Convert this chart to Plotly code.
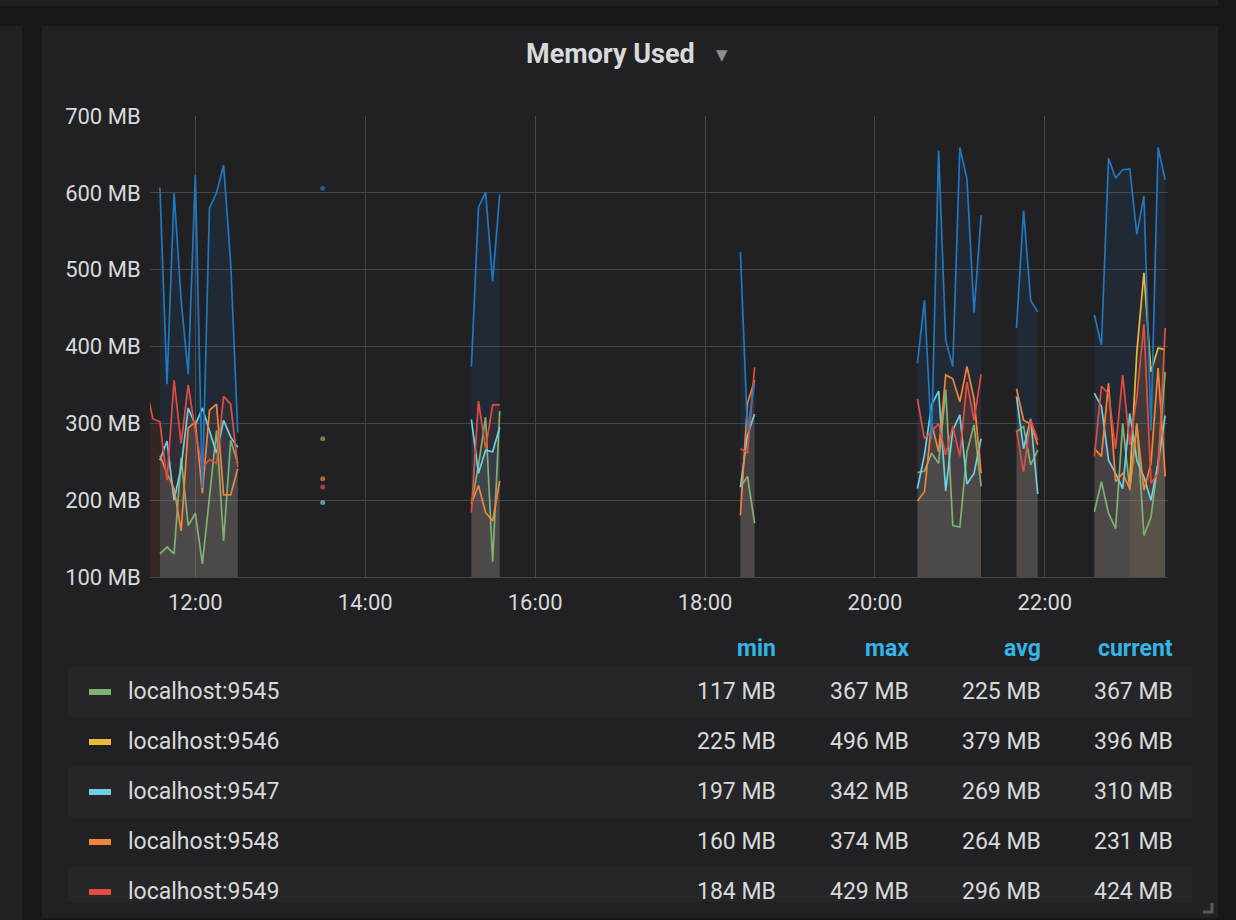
import plotly.graph_objects as go
from datetime import datetime, timedelta

DAY = "2018-06-01"

# ---- data (5‑minute samples, grouped in contiguous segments) ----
seg_starts = ["11:25", "13:30", "15:15", "18:25", "20:30", "21:40", "22:35"]

s9545 = [
    [None, None, 130, 139, 130, 255, 167, 183, 117, 200, 291, 147, 278, 248],
    [280],
    [195, 245, 308, 120, 316],
    [217, 231, 170],
    [236, 238, 261, 248, 344, 167, 165, 263, 298, 218],
    [289, 296, 246, 265],
    [185, 224, 183, 163, 300, 213, 300, 154, 178, 250, 367],
]
s9546 = [
    [None] * 14,
    [None],
    [None] * 5,
    [None] * 3,
    [None] * 10,
    [None] * 4,
    [None, None, None, None, None, 225, 393, 496, 367, 398, 396],
]
s9547 = [
    [None, None, 252, 277, 200, 243, 320, 298, 320, 289, 261, 304, 282, 269],
    [197],
    [305, 235, 265, 263, 295],
    [217, 285, 312],
    [215, 259, 324, 342, 212, 291, 311, 221, 235, 280],
    [335, 267, 306, 208],
    [339, 322, 252, 235, 215, 313, 252, 230, 200, 248, 310],
]
s9548 = [
    [None, None, 258, 235, 215, 160, 294, 302, 209, 317, 325, 207, 207, 241],
    [228],
    [196, 219, 184, 173, 225],
    [180, 326, 356],
    [199, 211, 300, 263, 363, 358, 328, 374, 332, 235],
    [345, 304, 299, 272],
    [267, 257, 352, 224, 235, 215, 298, 213, 248, 372, 231],
]
s9549 = [
    [350, 306, 302, 226, 356, 274, 350, 290, 242, 253, 248, 335, 325, 243],
    [217],
    [184, 329, 267, 324, 324],
    [267, 262, 373],
    [332, 280, 289, 300, 259, 296, 257, 354, 304, 364],
    [291, 237, 305, 278],
    [257, 348, 339, 267, 363, 272, 334, 429, 222, 235, 424],
]
s9550 = [
    [None, None, 607, 351, 600, 460, 364, 623, 216, 580, 600, 636, 508, 288],
    [606],
    [374, 581, 601, 485, 598],
    [523, 291, 352],
    [378, 460, 280, 655, 408, 374, 659, 618, 444, 571],
    [424, 577, 460, 445],
    [441, 402, 645, 619, 630, 631, 546, 596, 291, 659, 617],
]

series_names = ["localhost:9545", "localhost:9546", "localhost:9547",
                "localhost:9548", "localhost:9549", "localhost:9550"]
series_data = [s9545, s9546, s9547, s9548, s9549, s9550]
series_colors = ["#7EB26D", "#EAB839", "#6ED0E0", "#EF843C", "#E24D42", "#1F78C1"]

# legend table (visible rows)
legend_names = ["localhost:9545", "localhost:9546", "localhost:9547", "localhost:9548", "localhost:9549"]
legend_colors = ["#7EB26D", "#EAB839", "#6ED0E0", "#EF843C", "#E24D42"]
col_headers = ["min", "max", "avg", "current"]
col_min = ["117 MB", "225 MB", "197 MB", "160 MB", "184 MB"]
col_max = ["367 MB", "496 MB", "342 MB", "374 MB", "429 MB"]
col_avg = ["225 MB", "379 MB", "269 MB", "264 MB", "296 MB"]
col_cur = ["367 MB", "396 MB", "310 MB", "231 MB", "424 MB"]

y_ticks = [100, 200, 300, 400, 500, 600, 700]
y_ticktext = [f"{v} MB" for v in y_ticks]

# ---- layout geometry (pixels) ----
W, H = 1236, 920
PL, PR, PT, PB = 150, 1168, 116, 577
PW, PH = PR - PL, PB - PT


def X(px):
    return (px - PL) / PW


def Y(py):
    return (PB - py) / PH


def seg_points(start, vals):
    t0 = datetime.strptime(f"{DAY} {start}", "%Y-%m-%d %H:%M")
    return [t0 + timedelta(minutes=5 * i) for i in range(len(vals))], list(vals)


def build(segs):
    xs, ys = [], []
    for start, vals in zip(seg_starts, segs):
        sx, sy = seg_points(start, vals)
        xs += sx + [sx[-1] + timedelta(minutes=5)]
        ys += sy + [None]
    return xs, ys


def runs(xs, ys):
    """contiguous non-null runs"""
    out, cx, cy = [], [], []
    for x, y in zip(xs, ys):
        if y is None:
            if cx:
                out.append((cx, cy))
            cx, cy = [], []
        else:
            cx.append(x)
            cy.append(y)
    if cx:
        out.append((cx, cy))
    return out


def rgba(hexc, a):
    h = hexc.lstrip("#")
    r, g, b = int(h[0:2], 16), int(h[2:4], 16), int(h[4:6], 16)
    return f"rgba({r},{g},{b},{a})"


fig = go.Figure()
# fills (one per contiguous run so that gaps stay empty)
for name, segs, col in zip(series_names, series_data, series_colors):
    xs, ys = build(segs)
    for rx, ry in runs(xs, ys):
        if len(rx) < 2:
            continue
        fig.add_trace(go.Scatter(
            x=rx, y=ry, mode="lines", line=dict(width=0, color=col),
            fill="tozeroy", fillcolor=rgba(col, 0.1),
            hoverinfo="skip", showlegend=False,
        ))
# lines
for name, segs, col in zip(series_names, series_data, series_colors):
    xs, ys = build(segs)
    sizes = []
    for i, v in enumerate(ys):
        prev_none = i == 0 or ys[i - 1] is None
        next_none = i == len(ys) - 1 or ys[i + 1] is None
        sizes.append(5 if (v is not None and prev_none and next_none) else 0)
    fig.add_trace(go.Scatter(
        x=xs, y=ys, name=name, mode="lines+markers",
        line=dict(color=col, width=1.7),
        marker=dict(size=sizes, color=col, line=dict(width=0)),
        connectgaps=False, hoverinfo="skip", showlegend=False,
    ))

PAGE = "#161719"
PANEL = "#212124"
ROWBG = "#262629"
TXT = "#d8d9da"
GRID = "#474749"

shapes = []


def rect(x0, y0, x1, y1, color):
    shapes.append(dict(type="rect", xref="paper", yref="paper",
                       x0=X(x0), x1=X(x1), y0=Y(y1), y1=Y(y0),
                       fillcolor=color, line=dict(width=0), layer="below"))


rect(-10, -10, 1218, 6, PANEL)
rect(-10, 26, 22, 940, PANEL)
rect(42, 26, 1218, 918, PANEL)
for i in range(len(legend_names)):
    if i % 2 == 0:
        y0 = 667 + 50 * i
        rect(68, y0, 1192, min(y0 + 50, 902), ROWBG)
# legend swatches
for i, c in enumerate(legend_colors):
    cy = 692 + 50 * i
    shapes.append(dict(type="rect", xref="paper", yref="paper",
                       x0=X(89), x1=X(111), y0=Y(cy + 3), y1=Y(cy - 3),
                       fillcolor=c, line=dict(width=0), layer="above"))
# resize handle
shapes.append(dict(type="path", xref="paper", yref="paper",
                   path=f"M {X(1203)} {Y(912)} L {X(1212)} {Y(912)} L {X(1212)} {Y(903)}",
                   line=dict(color="#5b5b5d", width=3), layer="above"))

annotations = []
FONT = "Roboto, 'Helvetica Neue', Arial, sans-serif"
annotations.append(dict(text="<b>Memory Used</b>", xref="paper", yref="paper",
                        x=X(610), y=Y(54), xanchor="center", yanchor="middle",
                        showarrow=False, font=dict(family=FONT, size=27, color=TXT)))
annotations.append(dict(text="▼", xref="paper", yref="paper",
                        x=X(722), y=Y(55), xanchor="center", yanchor="middle",
                        showarrow=False, font=dict(family="DejaVu Sans", size=15, color="#8e8e8e")))

col_right = [778, 911, 1043, 1175]
for hdr, xr in zip(col_headers, col_right):
    annotations.append(dict(text=f"<b>{hdr}</b>", xref="paper", yref="paper",
                            x=X(xr), y=Y(648), xanchor="right", yanchor="middle",
                            showarrow=False, font=dict(family=FONT, size=23, color="#33b5e5")))
for i, nm in enumerate(legend_names):
    cy = 691 + 50 * i
    annotations.append(dict(text=nm, xref="paper", yref="paper",
                            x=X(126), y=Y(cy), xanchor="left", yanchor="middle",
                            showarrow=False, font=dict(family=FONT, size=23, color=TXT)))
    for vals, xr in zip([col_min, col_max, col_avg, col_cur], col_right):
        annotations.append(dict(text=vals[i], xref="paper", yref="paper",
                                x=X(xr), y=Y(cy), xanchor="right", yanchor="middle",
                                showarrow=False, font=dict(family=FONT, size=23, color=TXT)))

fig.update_layout(
    width=W, height=H, autosize=False,
    margin=dict(l=PL, r=W - PR, t=PT, b=H - PB, pad=0),
    paper_bgcolor=PAGE, plot_bgcolor="rgba(0,0,0,0)",
    shapes=shapes, annotations=annotations,
    font=dict(family=FONT, color=TXT),
    showlegend=False,
)
fig.update_xaxes(
    type="date", range=[f"{DAY} 11:28:00", f"{DAY} 23:27:00"],
    tickformat="%H:%M", dtick=2 * 3600 * 1000, tick0=f"{DAY} 00:00:00",
    showgrid=True, gridcolor=GRID, gridwidth=1, zeroline=False,
    showline=True, linecolor=GRID, linewidth=1,
    ticks="outside", ticklen=6, tickcolor="rgba(0,0,0,0)",
    tickfont=dict(family=FONT, size=22, color=TXT),
)
fig.update_yaxes(
    range=[100, 700], tickvals=y_ticks, ticktext=y_ticktext,
    showgrid=True, gridcolor=GRID, gridwidth=1, zeroline=False, showline=False,
    ticks="outside", ticklen=4, tickcolor="rgba(0,0,0,0)",
    tickfont=dict(family=FONT, size=22, color=TXT),
)

fig.write_html("out.html")
